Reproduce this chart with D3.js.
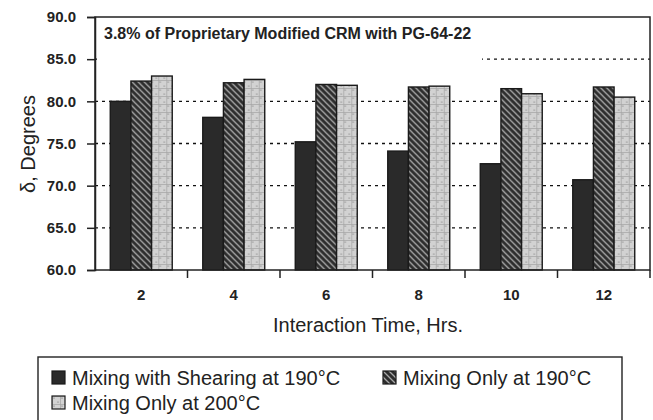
<!DOCTYPE html>
<html>
<head>
<meta charset="utf-8">
<script src="https://cdn.jsdelivr.net/npm/d3@7"></script>
<style>
  body { margin: 0; background: #fff; }
  svg { display: block; font-family: "Liberation Sans", Arial, sans-serif; }
</style>
</head>
<body>
<script>
// data
let times = ["2", "4", "6", "8", "10", "12"]
let seriesNames = ["Mixing with Shearing at 190°C", "Mixing Only at 190°C", "Mixing Only at 200°C"]
let shearing190 = [80.0, 78.1, 75.2, 74.1, 72.6, 70.7]
let mixing190 = [82.4, 82.2, 82.0, 81.7, 81.5, 81.7]
let mixing200 = [83.0, 82.6, 81.9, 81.8, 80.9, 80.5]
let yTicks = [60, 65, 70, 75, 80, 85, 90]
let gridValues = [65, 70, 75, 80, 85]

let width = 653
let height = 420
let margin = {left: 95, right: 3, top: 17, bottom: 150}

let svg = d3.select("body").append("svg")
    .attr("width", width)
    .attr("height", height)

// patterns for the bar fills
let defs = svg.append("defs")
let hatch = defs.append("pattern")
    .attr("id", "hatch")
    .attr("patternUnits", "userSpaceOnUse")
    .attr("width", 6).attr("height", 6)
hatch.append("rect").attr("width", 6).attr("height", 6).attr("fill", "#2e2e2e")
hatch.append("path")
    .attr("d", "M0,0L6,6M-1,5L1,7M5,-1L7,1")
    .attr("stroke", "#a8a8a8")
    .attr("stroke-width", 1.3)

let dots = defs.append("pattern")
    .attr("id", "dots")
    .attr("patternUnits", "userSpaceOnUse")
    .attr("width", 8).attr("height", 8)
dots.append("rect").attr("width", 8).attr("height", 8).attr("fill", "#d2d2d2")
dots.append("circle").attr("cx", 2).attr("cy", 2).attr("r", 0.6).attr("fill", "#666")
dots.append("circle").attr("cx", 6).attr("cy", 6).attr("r", 0.6).attr("fill", "#666")
dots.append("path").attr("d", "M0,0.5H8M0.5,0V8").attr("stroke", "#a4a4a4").attr("stroke-width", 0.7)

let fills = ["#2a2a2a", "url(#hatch)", "url(#dots)"]

let plotRight = width - margin.right
let plotBottom = height - margin.bottom

let x = d3.scaleBand()
    .domain(times)
    .range([margin.left, plotRight])
    .paddingInner(0.33)
    .paddingOuter(0.165)
let xSub = d3.scaleBand()
    .domain(d3.range(seriesNames.length))
    .range([0, x.bandwidth()])
let y = d3.scaleLinear()
    .domain([60, 90])
    .range([plotBottom, margin.top])

// dotted gridlines
svg.append("g")
    .selectAll("line")
    .data(gridValues)
    .enter()
    .append("line")
    .attr("x1", margin.left)
    .attr("x2", plotRight)
    .attr("y1", d => y(d))
    .attr("y2", d => y(d))
    .attr("stroke", "#111")
    .attr("stroke-width", 1.3)
    .attr("stroke-dasharray", "3,4")

// chart title sits on a white box that hides the left part of the 85 line
svg.append("rect")
    .attr("x", margin.left + 2)
    .attr("y", margin.top + 3)
    .attr("width", 385)
    .attr("height", y(85) - margin.top + 3)
    .attr("fill", "#fff")
svg.append("text")
    .attr("x", 104)
    .attr("y", 39)
    .attr("font-size", 16)
    .attr("font-weight", "bold")
    .attr("fill", "#222")
    .text("3.8% of Proprietary Modified CRM with PG-64-22")

// bars
let rows = times.map((t, i) => ({time: t, values: [shearing190[i], mixing190[i], mixing200[i]]}))
let groups = svg.append("g")
    .selectAll("g")
    .data(rows)
    .enter()
    .append("g")
    .attr("transform", d => `translate(${x(d.time)},0)`)
groups.selectAll("rect")
    .data(d => d.values.map((v, k) => ({k: k, v: v})))
    .enter()
    .append("rect")
    .attr("x", d => xSub(d.k))
    .attr("width", xSub.bandwidth())
    .attr("y", d => y(d.v))
    .attr("height", d => y(60) - y(d.v))
    .attr("fill", d => fills[d.k])
    .attr("stroke", "#1a1a1a")
    .attr("stroke-width", 1.4)

// frame
svg.append("rect")
    .attr("x", margin.left)
    .attr("y", margin.top)
    .attr("width", plotRight - margin.left)
    .attr("height", plotBottom - margin.top)
    .attr("fill", "none")
    .attr("stroke", "#222")
    .attr("stroke-width", 1.5)

// y axis
let yAxis = d3.axisLeft(y)
    .tickValues(yTicks)
    .tickFormat(d3.format(".1f"))
    .tickSize(8)
    .tickPadding(11)
let yg = svg.append("g")
    .attr("transform", `translate(${margin.left},0)`)
    .call(yAxis)
yg.select(".domain").attr("stroke", "#222").attr("stroke-width", 1.5)
yg.selectAll(".tick line").attr("stroke", "#222").attr("stroke-width", 1.5)
yg.selectAll("text")
    .attr("font-size", 15)
    .attr("font-weight", "bold")
    .attr("fill", "#222")
    .attr("font-family", "Liberation Sans, Arial, sans-serif")

// x axis: labels under bands, ticks on band boundaries
let xAxis = d3.axisBottom(x).tickSize(0).tickPadding(19)
let xg = svg.append("g")
    .attr("transform", `translate(0,${plotBottom})`)
    .call(xAxis)
xg.select(".domain").remove()
xg.selectAll("text")
    .attr("font-size", 15)
    .attr("font-weight", "bold")
    .attr("fill", "#222")
    .attr("font-family", "Liberation Sans, Arial, sans-serif")
let half = x.step() * x.paddingInner() / 2
let bounds = times.map(t => x(t) - half).slice(1).concat([x(times[times.length - 1]) + x.bandwidth() + half])
svg.append("g")
    .selectAll("line")
    .data(bounds)
    .enter()
    .append("line")
    .attr("x1", d => d).attr("x2", d => d)
    .attr("y1", plotBottom).attr("y2", plotBottom + 8)
    .attr("stroke", "#222")
    .attr("stroke-width", 1.5)

// axis titles
svg.append("text")
    .attr("x", 368)
    .attr("y", 332)
    .attr("text-anchor", "middle")
    .attr("font-size", 20)
    .attr("fill", "#222")
    .text("Interaction Time, Hrs.")
svg.append("text")
    .attr("transform", "translate(35,144) rotate(-90)")
    .attr("text-anchor", "middle")
    .attr("font-size", 20)
    .attr("fill", "#222")
    .text("δ, Degrees")

// legend
let legend = svg.append("g")
legend.append("rect")
    .attr("x", 38)
    .attr("y", 357)
    .attr("width", 584)
    .attr("height", 70)
    .attr("fill", "#fff")
    .attr("stroke", "#222")
    .attr("stroke-width", 1.4)
let legendPos = [[52, 371], [383, 371], [52, 396]]
let items = legend.selectAll("g.item")
    .data(seriesNames)
    .enter()
    .append("g")
    .attr("class", "item")
    .attr("transform", (d, i) => `translate(${legendPos[i][0]},${legendPos[i][1]})`)
items.append("rect")
    .attr("width", 13)
    .attr("height", 13)
    .attr("fill", (d, i) => fills[i])
    .attr("stroke", "#1a1a1a")
    .attr("stroke-width", 1.2)
items.append("text")
    .attr("x", 20)
    .attr("y", 14)
    .attr("font-size", 20)
    .attr("fill", "#222")
    .text(d => d)
</script>
</body>
</html>
